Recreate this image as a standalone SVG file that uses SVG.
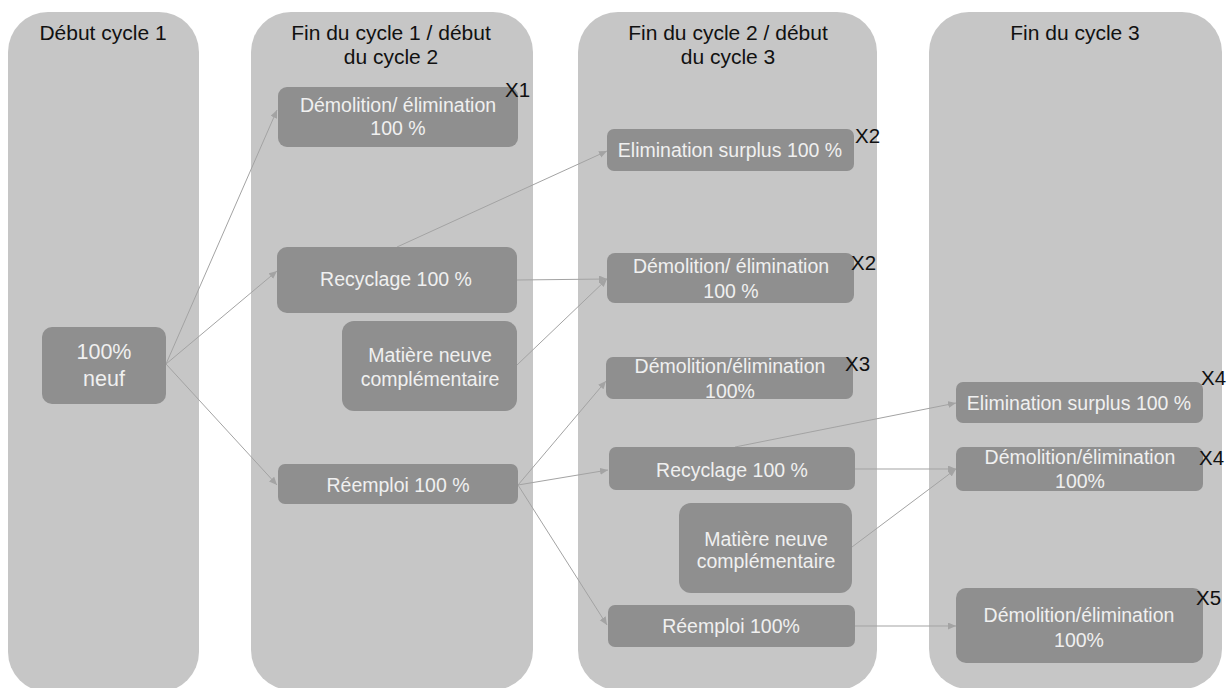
<svg xmlns="http://www.w3.org/2000/svg" width="1231" height="688" viewBox="0 0 1231 688">
<style>
.col{fill:#c6c6c6}
.box{fill:#8f8f8f}
.title{font-family:"Liberation Sans",Arial,sans-serif;font-size:21px;fill:#111;text-anchor:middle}
.t{font-family:"Liberation Sans",Arial,sans-serif;font-size:19.5px;fill:#f0f0f0;text-anchor:middle}
.big{font-size:21.5px}
.x{font-family:"Liberation Sans",Arial,sans-serif;font-size:20.5px;fill:#111}
.conn line{stroke:#a3a3a3;stroke-width:1;fill:none;marker-end:url(#ah)}
</style>
<defs>
<marker id="ah" markerUnits="userSpaceOnUse" markerWidth="9" markerHeight="8" refX="8" refY="3.5" orient="auto">
<path d="M0,0 L8,3.5 L0,7 z" fill="#a3a3a3"/>
</marker>
</defs>
<rect width="1231" height="688" fill="#ffffff"/>
<g id="columns">
<g id="col1"><rect class="col" x="8" y="12" width="191" height="680" rx="40"/><text class="title" x="103" y="40">Début cycle 1</text></g>
<g id="col2"><rect class="col" x="251" y="12" width="282" height="678" rx="40"/><text class="title" x="391" y="40">Fin du cycle 1 / début</text><text class="title" x="391" y="64">du cycle 2</text></g>
<g id="col3"><rect class="col" x="578" y="12" width="299" height="678" rx="40"/><text class="title" x="728" y="40">Fin du cycle 2 / début</text><text class="title" x="728" y="64">du cycle 3</text></g>
<g id="col4"><rect class="col" x="929" y="12" width="293" height="677" rx="40"/><text class="title" x="1075" y="40">Fin du cycle 3</text></g>
</g>
<g id="connectors" class="conn">
<line x1="166" y1="364" x2="277" y2="110"/>
<line x1="166" y1="364" x2="277" y2="271"/>
<line x1="166" y1="364" x2="277" y2="485"/>
<line x1="397" y1="247" x2="607" y2="151"/>
<line x1="517" y1="280" x2="607" y2="279"/>
<line x1="517" y1="365" x2="607" y2="279"/>
<line x1="518" y1="485" x2="606" y2="381"/>
<line x1="518" y1="485" x2="608" y2="470"/>
<line x1="518" y1="485" x2="607" y2="625"/>
<line x1="735" y1="447" x2="956" y2="403"/>
<line x1="855" y1="469" x2="956" y2="469"/>
<line x1="852" y1="547" x2="956" y2="469"/>
<line x1="855" y1="626" x2="956" y2="626"/>
</g>
<g id="n-neuf"><rect class="box" x="42" y="327" width="124" height="77" rx="10"/><text class="t big" x="104" y="359">100%</text><text class="t big" x="104" y="386">neuf</text></g>
<g id="n-demol1"><rect class="box" x="278" y="87" width="240" height="60" rx="9"/><text class="t" x="398" y="112">Démolition/ élimination</text><text class="t" x="398" y="135">100 %</text><text class="x" x="505" y="97">X1</text></g>
<g id="n-recyc1"><rect class="box" x="277" y="247" width="240" height="66" rx="10"/><text class="t" x="396" y="286">Recyclage 100 %</text></g>
<g id="n-matiere1"><rect class="box" x="342" y="321" width="175" height="90" rx="12"/><text class="t" x="430" y="362">Matière neuve</text><text class="t" x="430" y="386">complémentaire</text></g>
<g id="n-reemploi1"><rect class="box" x="278" y="464" width="240" height="40" rx="7"/><text class="t" x="398" y="492">Réemploi 100 %</text></g>
<g id="n-elim2"><rect class="box" x="607" y="129" width="247" height="42" rx="7"/><text class="t" x="730" y="157">Elimination surplus 100 %</text><text class="x" x="855" y="143">X2</text></g>
<g id="n-demol2"><rect class="box" x="607" y="253" width="247" height="50" rx="8"/><text class="t" x="731" y="273">Démolition/ élimination</text><text class="t" x="731" y="298">100 %</text><text class="x" x="851" y="270">X2</text></g>
<g id="n-demol3"><rect class="box" x="606" y="357" width="247" height="42" rx="7"/><text class="t" x="730" y="373">Démolition/élimination</text><text class="t" x="730" y="398">100%</text><text class="x" x="845" y="371">X3</text></g>
<g id="n-recyc2"><rect class="box" x="609" y="447" width="246" height="43" rx="7"/><text class="t" x="732" y="477">Recyclage 100 %</text></g>
<g id="n-matiere2"><rect class="box" x="679" y="503" width="173" height="90" rx="12"/><text class="t" x="766" y="546">Matière neuve</text><text class="t" x="766" y="568">complémentaire</text></g>
<g id="n-reemploi2"><rect class="box" x="608" y="605" width="247" height="42" rx="7"/><text class="t" x="731" y="633">Réemploi 100%</text></g>
<g id="n-elim4"><rect class="box" x="956" y="382" width="247" height="41" rx="7"/><text class="t" x="1079" y="410">Elimination surplus 100 %</text><text class="x" x="1201" y="385">X4</text></g>
<g id="n-demol4"><rect class="box" x="956" y="447" width="247" height="44" rx="7"/><text class="t" x="1080" y="464">Démolition/élimination</text><text class="t" x="1080" y="488">100%</text><text class="x" x="1199" y="465">X4</text></g>
<g id="n-demol5"><rect class="box" x="956" y="588" width="247" height="75" rx="10"/><text class="t" x="1079" y="622">Démolition/élimination</text><text class="t" x="1079" y="647">100%</text><text class="x" x="1196" y="605">X5</text></g>
</svg>
